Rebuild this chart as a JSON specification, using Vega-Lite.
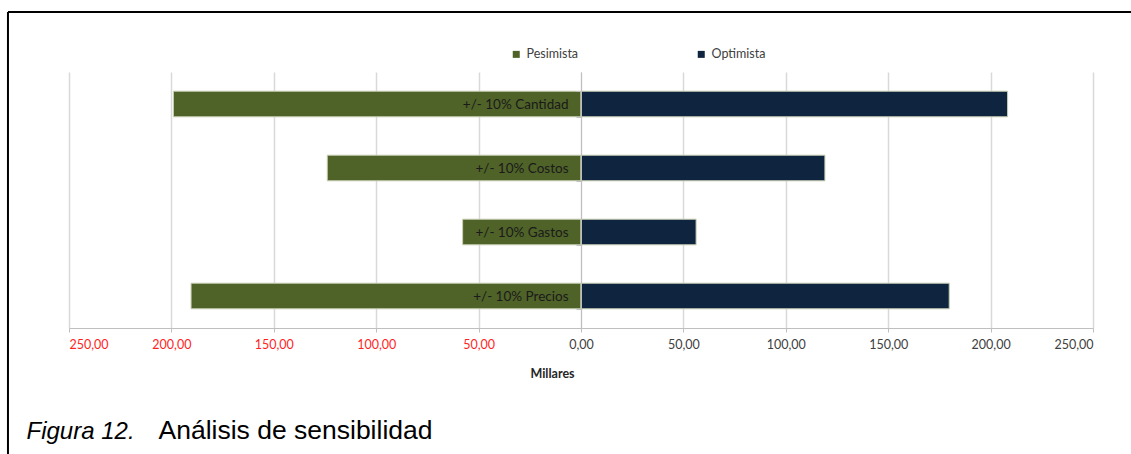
{
  "$schema": "https://vega.github.io/schema/vega-lite/v6.json",
  "width": 1024,
  "height": 256,
  "autosize": "none",
  "padding": {"left": 69, "top": 72, "right": 38, "bottom": 126},
  "background": "white",
  "config": {
    "view": {"stroke": null},
    "axis": {"labelFont": "Lato", "titleFont": "Lato"},
    "legend": {"labelFont": "Lato"}
  },
  "resolve": {"scale": {"y": "independent"}, "axis": {"y": "independent"}},
  "layer": [
    {
      "data": {
        "values": [
          {"factor": "+/-  10% Cantidad", "escenario": "Pesimista", "valor": -199.0},
          {"factor": "+/-  10% Cantidad", "escenario": "Optimista", "valor": 208.3},
          {"factor": "+/-  10% Costos", "escenario": "Pesimista", "valor": -123.9},
          {"factor": "+/-  10% Costos", "escenario": "Optimista", "valor": 119.1},
          {"factor": "+/-  10% Gastos", "escenario": "Pesimista", "valor": -57.8},
          {"factor": "+/-  10% Gastos", "escenario": "Optimista", "valor": 56.2},
          {"factor": "+/-  10% Precios", "escenario": "Pesimista", "valor": -190.4},
          {"factor": "+/-  10% Precios", "escenario": "Optimista", "valor": 179.8}
        ]
      },
      "mark": {"type": "bar", "stroke": "#C9CFB4", "strokeWidth": 1},
      "encoding": {
        "x": {
          "field": "valor",
          "type": "quantitative",
          "stack": null,
          "scale": {"domain": [-250, 250], "nice": false},
          "axis": {
            "values": [-250, -200, -150, -100, -50, 0, 50, 100, 150, 200, 250],
            "labelExpr": "replace(format(abs(datum.value), '.2f'), '.', ',')",
            "labelColor": {"condition": {"test": "datum.value < 0", "value": "#FF1F1F"}, "value": "#404040"},
            "labelFontSize": 12.5,
            "labelPadding": 6,
            "tickSize": 4,
            "tickColor": "#BFBFBF",
            "domainColor": "#BFBFBF",
            "gridColor": "#D9D9D9",
            "gridWidth": 1.5,
            "title": "Millares",
            "titleFontSize": 12.5,
            "titleFontWeight": "bold",
            "titleColor": "#262626",
            "titleX": 483,
            "titleY": 45,
            "titleBaseline": "middle",
            "titleAlign": "center"
          }
        },
        "y": {
          "field": "factor",
          "type": "nominal",
          "sort": ["+/-  10% Cantidad", "+/-  10% Costos", "+/-  10% Gastos", "+/-  10% Precios"],
          "scale": {"paddingInner": 0.6, "paddingOuter": 0.3},
          "axis": {
            "orient": "left",
            "offset": -512,
            "title": null,
            "tickBand": "extent",
            "domainColor": "#BFBFBF",
            "tickColor": "#BFBFBF",
            "tickSize": 5,
            "labelFontSize": 13.5,
            "labelColor": "#1A1A1A",
            "labelPadding": 8,
            "grid": false,
            "zindex": 1
          }
        },
        "color": {
          "field": "escenario",
          "type": "nominal",
          "scale": {"domain": ["Pesimista", "Optimista"], "range": ["#4F6228", "#0F243E"]},
          "legend": {
            "orient": "none",
            "legendX": 441,
            "legendY": -24,
            "direction": "horizontal",
            "title": null,
            "padding": 0,
            "symbolType": "square",
            "symbolSize": 49,
            "symbolStrokeWidth": 0,
            "labelFontSize": 12.5,
            "labelColor": "#404040",
            "labelOffset": 4,
            "columnPadding": 116
          }
        }
      }
    },
    {
      "data": {"values": [{}]},
      "mark": {"type": "rule", "color": "black", "strokeWidth": 2},
      "encoding": {
        "x": {"datum": -279.8, "type": "quantitative", "scale": {"domain": [-250, 250], "nice": false}},
        "x2": {"datum": 270},
        "y": {
          "datum": 316,
          "type": "quantitative",
          "scale": {"domain": [0, 256], "nice": false, "zero": false},
          "axis": {
            "orient": "left",
            "domain": false,
            "ticks": false,
            "labels": false,
            "grid": false,
            "title": "Figura 12.",
            "titleAngle": 0,
            "titleFont": "Liberation Sans",
            "titleFontSize": 24,
            "titleFontStyle": "italic",
            "titleFontWeight": "normal",
            "titleColor": "black",
            "titleAlign": "left",
            "titleBaseline": "alphabetic",
            "titleX": -43,
            "titleY": 366
          }
        }
      }
    },
    {
      "data": {"values": [{}]},
      "mark": {"type": "rule", "color": "black", "strokeWidth": 2},
      "encoding": {
        "x": {"datum": -279.8, "type": "quantitative", "scale": {"domain": [-250, 250], "nice": false}},
        "y": {
          "datum": 316,
          "type": "quantitative",
          "scale": {"domain": [0, 256], "nice": false, "zero": false},
          "axis": {
            "orient": "left",
            "domain": false,
            "ticks": false,
            "labels": false,
            "grid": false,
            "title": "Análisis de sensibilidad",
            "titleAngle": 0,
            "titleFont": "Liberation Sans",
            "titleFontSize": 26.5,
            "titleFontWeight": "normal",
            "titleColor": "black",
            "titleAlign": "left",
            "titleBaseline": "alphabetic",
            "titleX": 89,
            "titleY": 366
          }
        },
        "y2": {"datum": -130}
      }
    }
  ]
}
